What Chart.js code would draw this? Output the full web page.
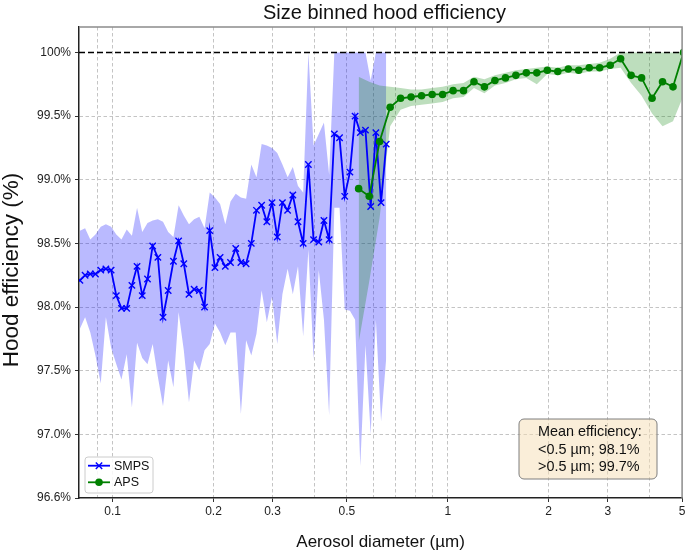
<!DOCTYPE html>
<html><head><meta charset="utf-8">
<script src="https://cdn.jsdelivr.net/npm/chart.js@4/dist/chart.umd.min.js"></script>
<style>html,body{margin:0;padding:0;background:#fff;overflow:hidden}#wrap{width:688px;height:555px}</style>
</head><body><div id="wrap"><canvas id="c" width="688" height="555"></canvas></div>
<script>
// ---------------- data ----------------
const smpsDiameter = [0.0799,0.0828,0.0858,0.0889,0.0922,0.0955,0.0990,0.1026,0.1063,0.1102,0.1142,0.1183,0.1226,0.1271,0.1317,0.1365,0.1414,0.1465,0.1519,0.1574,0.1631,0.1690,0.1751,0.1815,0.1881,0.1949,0.2020,0.2093,0.2169,0.2248,0.2330,0.2414,0.2502,0.2593,0.2687,0.2784,0.2885,0.2990,0.3099,0.3211,0.3328,0.3449,0.3574,0.3703,0.3838,0.3977,0.4122,0.4271,0.4426,0.4587,0.4754,0.4926,0.5105,0.5290,0.5482,0.5681,0.5888,0.6101,0.6323,0.6552];
const smpsEfficiency = [98.21,98.25,98.26,98.26,98.29,98.30,98.29,98.09,97.99,97.99,98.17,98.32,98.09,98.22,98.48,98.39,97.92,98.13,98.36,98.52,98.34,98.10,98.14,98.13,98.00,98.60,98.31,98.39,98.32,98.35,98.46,98.35,98.34,98.50,98.76,98.80,98.67,98.82,98.55,98.82,98.76,98.88,98.67,98.50,99.12,98.53,98.51,98.68,98.53,99.36,99.33,98.87,99.06,99.50,99.37,99.39,98.79,99.37,98.82,99.28];
const smpsUpper = [98.60,98.62,98.53,98.57,98.63,98.65,98.63,98.57,98.53,98.61,98.56,98.78,98.59,98.66,98.68,98.69,98.67,98.59,98.55,98.80,98.72,98.65,98.69,98.71,98.62,98.90,98.86,98.81,98.65,98.83,98.89,98.86,98.85,99.12,99.02,99.28,99.27,99.25,99.21,99.12,99.02,99.10,98.95,98.90,100.0,99.27,99.36,99.45,99.04,100.0,100.0,100.0,100.0,100.0,100.0,100.0,99.78,100.0,100.0,100.0];
const smpsLower = [97.83,97.92,97.80,97.62,97.40,97.92,97.68,97.55,97.43,97.63,97.21,97.72,97.60,97.55,97.71,97.45,97.22,97.58,97.37,97.96,97.66,97.25,97.58,97.50,97.66,97.71,97.87,97.80,97.70,97.80,97.80,97.16,97.74,97.62,97.79,98.13,97.88,98.08,97.71,98.10,98.30,98.10,98.32,97.77,98.45,97.59,98.29,97.90,97.15,98.78,98.78,97.98,97.97,97.90,96.75,97.70,97.00,97.90,97.10,97.60];

const apsDiameter = [0.542,0.583,0.626,0.673,0.723,0.777,0.835,0.898,0.965,1.037,1.114,1.197,1.286,1.382,1.486,1.596,1.715,1.843,1.981,2.129,2.288,2.458,2.642,2.839,3.051,3.278,3.523,3.786,4.068,4.371,4.698,5.048];
const apsEfficiency = [98.93,98.87,99.30,99.57,99.64,99.65,99.66,99.67,99.67,99.70,99.70,99.77,99.73,99.78,99.80,99.82,99.84,99.84,99.86,99.85,99.87,99.86,99.88,99.88,99.90,99.95,99.82,99.80,99.64,99.77,99.73,100.0];
const apsUpper = [99.81,99.77,99.74,99.73,99.72,99.71,99.71,99.72,99.73,99.75,99.76,99.81,99.79,99.82,99.84,99.86,99.87,99.88,99.89,99.88,99.90,99.90,99.91,99.92,99.95,100.0,100.0,100.0,100.0,100.0,100.0,100.0];
const apsLower = [97.72,98.20,98.70,99.42,99.55,99.58,99.59,99.60,99.61,99.64,99.65,99.72,99.68,99.74,99.76,99.79,99.80,99.75,99.83,99.82,99.84,99.83,99.85,99.85,99.87,99.88,99.76,99.66,99.52,99.42,99.46,99.66];

const xTickValues = [0.09,0.1,0.2,0.3,0.4,0.5,0.6,0.7,0.8,0.9,1,2,3,4,5];
const xTickLabels = ['','0.1','0.2','0.3','','0.5','','','','','1','2','3','','5'];
const yTickValues = [96.5,97,97.5,98,98.5,99,99.5,100];
const yTickLabels = ['96.6%','97.0%','97.5%','98.0%','98.5%','99.0%','99.5%','100%'];
const xRange = [0.0794, 5];
const yRange = [96.5, 100.2];
const referenceLevel = 100;

const titleText = 'Size binned hood efficiency';
const xTitle = 'Aerosol diameter (µm)';
const yTitle = 'Hood efficiency (%)';
const legendNames = ['SMPS', 'APS'];
const noteLines = ['Mean efficiency:', '<0.5 µm; 98.1%', '>0.5 µm; 99.7%'];

// ---------------- chart ----------------
const FONT = "'Liberation Sans', Arial, Helvetica, sans-serif";
Chart.defaults.font.family = FONT;
const pts = (xs, ys) => xs.map((x, i) => ({x: x, y: ys[i]}));
const BLUE = '#0000ff', GREEN = '#008000';

const decor = {
  id: 'decor',
  afterDraw(chart) {
    const ctx = chart.ctx, a = chart.chartArea;
    ctx.save();
    // top & right spines
    ctx.strokeStyle = '#8c8c8c'; ctx.lineWidth = 1.5;
    ctx.beginPath();
    ctx.moveTo(a.left, a.top); ctx.lineTo(a.right, a.top); ctx.lineTo(a.right, a.bottom);
    ctx.stroke();
    // title
    ctx.fillStyle = '#111'; ctx.font = '20px ' + FONT;
    ctx.textAlign = 'center'; ctx.textBaseline = 'middle';
    ctx.fillText(titleText, (a.left + a.right) / 2 + 4, 13);
    // y axis title
    ctx.save();
    ctx.translate(12, 270); ctx.rotate(-Math.PI / 2);
    ctx.font = '22.5px ' + FONT; ctx.fillStyle = '#111';
    ctx.textAlign = 'center'; ctx.textBaseline = 'middle';
    ctx.fillText(yTitle, 0, 0);
    ctx.restore();
    // legend
    const lx = 85, ly = 457, lw = 68, lh = 36;
    ctx.beginPath(); ctx.roundRect(lx, ly, lw, lh, 3);
    ctx.fillStyle = 'rgba(255,255,255,0.85)'; ctx.fill();
    ctx.strokeStyle = '#cccccc'; ctx.lineWidth = 1; ctx.stroke();
    const rows = [{y: 465.7, c: BLUE, m: 'x'}, {y: 482.3, c: GREEN, m: 'o'}];
    rows.forEach((r, i) => {
      ctx.strokeStyle = r.c; ctx.lineWidth = 1.8;
      ctx.beginPath(); ctx.moveTo(88, r.y); ctx.lineTo(110, r.y); ctx.stroke();
      if (r.m === 'x') {
        const d = 3.2; ctx.lineWidth = 1.4;
        ctx.beginPath(); ctx.moveTo(99 - d, r.y - d); ctx.lineTo(99 + d, r.y + d);
        ctx.moveTo(99 - d, r.y + d); ctx.lineTo(99 + d, r.y - d); ctx.stroke();
      } else {
        ctx.fillStyle = r.c; ctx.beginPath(); ctx.arc(99, r.y, 3.8, 0, Math.PI * 2); ctx.fill();
      }
      ctx.fillStyle = '#111'; ctx.font = '12.5px ' + FONT;
      ctx.textAlign = 'left'; ctx.textBaseline = 'middle';
      ctx.fillText(legendNames[i], 114, r.y + 0.5);
    });
    // annotation box
    ctx.beginPath(); ctx.roundRect(519, 419, 138, 60, 5);
    ctx.fillStyle = 'rgba(245,222,179,0.5)'; ctx.fill();
    ctx.strokeStyle = '#7f7f7f'; ctx.lineWidth = 1; ctx.stroke();
    ctx.fillStyle = '#111'; ctx.font = '14.4px ' + FONT;
    ctx.textAlign = 'left'; ctx.textBaseline = 'middle';
    [431.7, 450, 467.5].forEach((y, i) => ctx.fillText(noteLines[i], 538, y));
    ctx.restore();
  }
};

const gridCol = '#c4c4c4';
new Chart(document.getElementById('c'), {
  type: 'line',
  data: {
    datasets: [
      {label: 'SMPS', data: pts(smpsDiameter, smpsEfficiency), borderColor: BLUE, backgroundColor: BLUE,
       borderWidth: 1.8, pointStyle: 'crossRot', pointRadius: 4.5, pointBorderWidth: 1.4,
       pointBorderColor: BLUE, fill: false, tension: 0, order: 1},
      {label: 'APS', data: pts(apsDiameter, apsEfficiency), borderColor: GREEN, backgroundColor: GREEN,
       borderWidth: 1.8, pointStyle: 'circle', pointRadius: 3.8, pointBorderWidth: 0,
       pointBackgroundColor: GREEN, fill: false, tension: 0, order: 0},
      {label: 'SMPS upper', data: pts(smpsDiameter, smpsUpper), borderColor: 'rgba(0,0,0,0)', borderWidth: 0,
       pointRadius: 0, fill: '+1', backgroundColor: 'rgba(0,0,255,0.27)', order: 11},
      {label: 'SMPS lower', data: pts(smpsDiameter, smpsLower), borderColor: 'rgba(0,0,0,0)', borderWidth: 0,
       pointRadius: 0, fill: false, order: 11},
      {label: 'APS upper', data: pts(apsDiameter, apsUpper), borderColor: 'rgba(0,0,0,0)', borderWidth: 0,
       pointRadius: 0, fill: '+1', backgroundColor: 'rgba(0,128,0,0.26)', order: 10},
      {label: 'APS lower', data: pts(apsDiameter, apsLower), borderColor: 'rgba(0,0,0,0)', borderWidth: 0,
       pointRadius: 0, fill: false, order: 10},
      {label: '100%', data: [{x: xRange[0], y: referenceLevel}, {x: xRange[1], y: referenceLevel}],
       borderColor: '#000', borderWidth: 1.6, borderDash: [6, 3], pointRadius: 0, fill: false, order: 2}
    ]
  },
  options: {
    responsive: false, animation: false, devicePixelRatio: 1, events: [],
    layout: {padding: {top: 27, right: 5.5, bottom: 0, left: 0}},
    plugins: {legend: {display: false}, tooltip: {enabled: false}, title: {display: false}},
    scales: {
      x: {
        type: 'logarithmic', min: xRange[0], max: xRange[1], bounds: 'data',
        afterBuildTicks: s => { s.ticks = xTickValues.map(v => ({value: v})); },
        afterFit: s => { s.height = 57; },
        ticks: {autoSkip: false, maxRotation: 0, minRotation: 0, padding: 2, color: '#222',
                font: {size: 12}, callback: (v, i) => xTickLabels[i]},
        grid: {color: c => (c.tick && c.tick.value === 5) ? 'rgba(0,0,0,0)' : gridCol, lineWidth: 1,
               tickLength: 4, tickBorderDash: [],
               tickColor: c => (c.index !== undefined && xTickLabels[c.index]) ? '#333' : 'rgba(0,0,0,0)'},
        border: {display: true, color: '#222', width: 1.5, dash: [3.5, 2.5]},
        title: {display: true, text: xTitle, color: '#111', font: {size: 17}, padding: {top: 0, bottom: 2}}
      },
      y: {
        type: 'linear', min: yRange[0], max: yRange[1], bounds: 'data',
        afterBuildTicks: s => { s.ticks = yTickValues.map(v => ({value: v})); },
        afterFit: s => { s.width = 79; },
        ticks: {padding: 4, color: '#222', font: {size: 12}, callback: (v, i) => yTickLabels[i]},
        grid: {color: c => (c.tick && (c.tick.value === 96.5 || c.tick.value === 100)) ? 'rgba(0,0,0,0)' : gridCol,
               lineWidth: 1, tickLength: 4, tickBorderDash: [], tickColor: '#333'},
        border: {display: true, color: '#222', width: 1.5, dash: [3.5, 2.5]},
        title: {display: false, text: yTitle}
      }
    }
  },
  plugins: [decor]
});
</script>
</body></html>
